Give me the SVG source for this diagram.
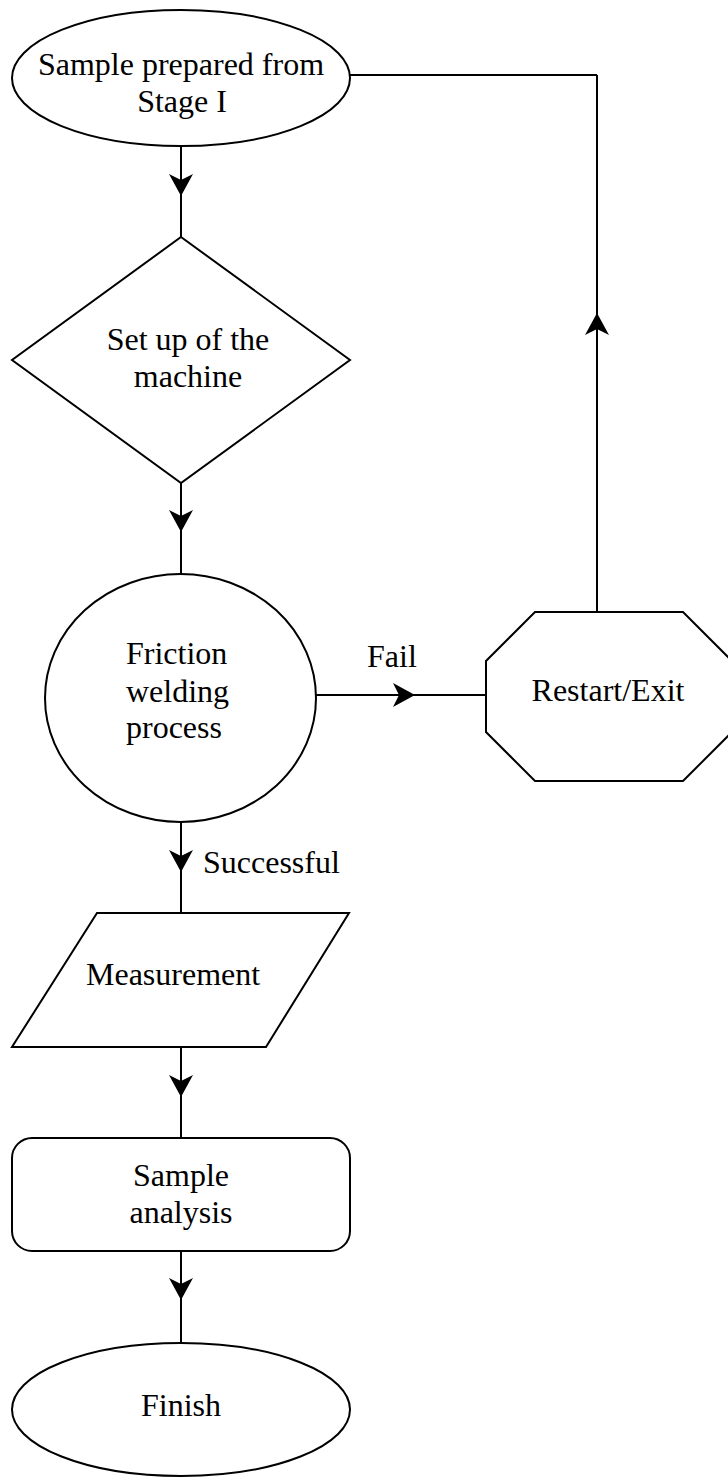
<svg xmlns="http://www.w3.org/2000/svg" width="728" height="1477" viewBox="0 0 728 1477">
<style>
.s{fill:#fff;stroke:#000;stroke-width:2}
.c{fill:none;stroke:#000;stroke-width:2}
text{font-family:"Liberation Serif","Times New Roman",serif;font-size:32px;fill:#000}
.m{text-anchor:middle}
</style>
<defs>
<marker id="ah" viewBox="-22 -12 24 24" refX="0" refY="0" markerWidth="24" markerHeight="24" markerUnits="userSpaceOnUse" orient="auto" overflow="visible">
<path d="M0,0 L-22,-12 L-16,0 L-22,12 Z" fill="#000"/>
</marker>
</defs>
<rect width="728" height="1477" fill="#fff"/>
<g id="connectors">
<polyline class="c" points="181,146 181,196 181,237" marker-mid="url(#ah)"/>
<polyline class="c" points="181,483 181,532 181,574" marker-mid="url(#ah)"/>
<polyline class="c" points="316,695 415,695 486,695" marker-mid="url(#ah)"/>
<polyline class="c" points="181,822 181,872 181,913" marker-mid="url(#ah)"/>
<polyline class="c" points="181,1047 181,1097 181,1138" marker-mid="url(#ah)"/>
<polyline class="c" points="181,1251 181,1300 181,1343" marker-mid="url(#ah)"/>
<polyline class="c" points="597,612 597,313 597,75" marker-mid="url(#ah)"/>
<polyline class="c" points="597,75 350,75"/>
<text x="367" y="667">Fail</text>
<text x="203" y="873">Successful</text>
</g>
<g id="start">
<ellipse class="s" cx="181" cy="78" rx="169" ry="68"/>
<text class="m" x="181" y="75">Sample prepared from</text>
<text class="m" x="182" y="112">Stage I</text>
</g>
<g id="setup">
<polygon class="s" points="181,237 350,360 181,483 12,360"/>
<text class="m" x="188" y="350">Set up of the</text>
<text class="m" x="188" y="387">machine</text>
</g>
<g id="friction">
<ellipse class="s" cx="180.5" cy="698" rx="135.5" ry="124"/>
<text x="126" y="664">Friction</text>
<text x="126" y="702">welding</text>
<text x="126" y="738">process</text>
</g>
<g id="restart">
<polygon class="s" points="535,612 683,612 732,661 732,732 683,781 535,781 486,732 486,661"/>
<text class="m" x="608" y="701">Restart/Exit</text>
</g>
<g id="measurement">
<polygon class="s" points="97,913 349,913 266,1047 12,1047"/>
<text x="86" y="985">Measurement</text>
</g>
<g id="analysis">
<rect class="s" x="12" y="1138" width="338" height="113" rx="20" ry="20"/>
<text class="m" x="181" y="1186">Sample</text>
<text class="m" x="181" y="1223">analysis</text>
</g>
<g id="finish">
<ellipse class="s" cx="181" cy="1409.5" rx="169" ry="66.5"/>
<text class="m" x="181" y="1416">Finish</text>
</g>
</svg>
